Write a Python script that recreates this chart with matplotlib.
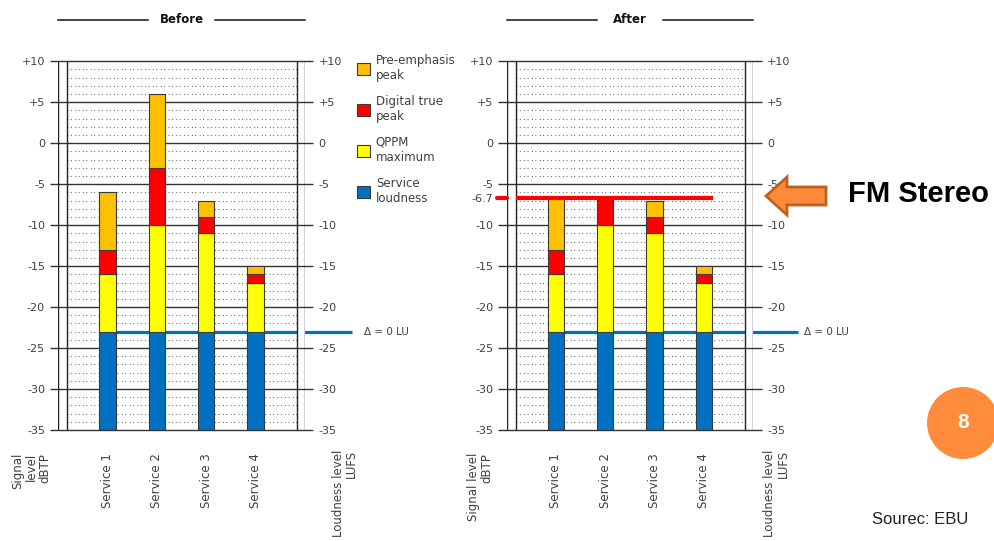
import matplotlib.pyplot as plt
from matplotlib.patches import Patch, Polygon, Circle
import numpy as np

# values (dBTP / LUFS)
services = ['Service 1', 'Service 2', 'Service 3', 'Service 4']
x_pos = [1, 2, 3, 4]
floor = -35
target = -23
fm_limit = -6.7

before_loudness = [-23, -23, -23, -23]
before_qppm = [-16, -10, -11, -17]
before_true_peak = [-13, -3, -9, -16]
before_pre_emphasis = [-6, 6, -7, -15]

after_loudness = [-23, -23, -23, -23]
after_qppm = [-16, -10, -11, -17]
after_true_peak = [-13, -6.7, -9, -16]
after_pre_emphasis = [-6.7, -6.7, -7, -15]

y_ticks = [10, 5, 0, -5, -10, -15, -20, -25, -30, -35]
y_tick_labels = ['+10', '+5', '0', '-5', '-10', '-15', '-20', '-25', '-30', '-35']

legend_labels = ['Pre-emphasis\npeak', 'Digital true\npeak', 'QPPM\nmaximum', 'Service\nloudness']

ORANGE = '#FFC000'
RED = '#FF0000'
YELLOW = '#FFFF00'
BLUE = '#0070C0'
GREY = '#404040'

W, H = 995, 541


def fig_box(left, top, width, height):
    return [left / W, 1 - (top + height) / H, width / W, height / H]


def draw_panel(fig, left_px, title, loudness, qppm, true_peak, pre, blue_end, delta_x,
               extra_tick=None):
    ax = fig.add_axes(fig_box(left_px, 61.3, 246.5, 368.7))
    ax.set_xlim(0, 5)
    ax.set_ylim(-35, 10)
    ax.set_facecolor('none')
    for s in ax.spines.values():
        s.set_visible(False)

    minor = [v for v in range(-34, 10) if v % 5 != 0]
    ax.hlines(minor, 0.18, 4.84, colors='#555555', lw=0.8,
              linestyles=[(0, (0.8, 2.2, 0.8, 3.2))], zorder=1)
    ax.axvspan(0, 0.18, color='white', zorder=2, lw=0)
    ax.axvspan(4.84, 5, color='white', zorder=2, lw=0)
    ax.hlines(y_ticks, -0.17, 5.17, colors='#333333', lw=1.0, zorder=2.5, clip_on=False)
    ax.vlines([0, 0.18, 4.84, 5], -35, 10, colors='#222222', lw=1.0, zorder=2.5)

    base = np.full(len(x_pos), floor, dtype=float)
    for top, color in [(loudness, BLUE), (qppm, YELLOW), (true_peak, RED), (pre, ORANGE)]:
        top = np.array(top, dtype=float)
        ax.bar(x_pos, top - base, bottom=base, width=0.33, color=color,
               edgecolor='#3a3a3a', lw=0.8, zorder=3)
        base = top

    ax.plot([x_pos[0] - 0.165, blue_end], [target, target], color=BLUE, lw=2.3,
            zorder=1.5, clip_on=False, solid_capstyle='butt')
    ax.text(delta_x, target, '\u0394 = 0 LU', va='center', ha='left', fontsize=7.5,
            color=GREY)

    ticks, labels = list(y_ticks), list(y_tick_labels)
    if extra_tick is not None:
        ticks.insert(4, extra_tick)
        labels.insert(4, str(extra_tick))
    ax.set_yticks(ticks, labels)
    ax.tick_params(axis='y', length=0, pad=9.5, labelsize=8, labelcolor=GREY)
    ax.set_xticks(x_pos, services, rotation=90)
    ax.tick_params(axis='x', length=0, pad=17, labelsize=8.5, labelcolor=GREY)

    ax2 = ax.twinx()
    ax2.set_ylim(-35, 10)
    ax2.set_yticks(y_ticks, y_tick_labels)
    ax2.tick_params(axis='y', length=0, pad=10, labelsize=8, labelcolor=GREY)
    for s in ax2.spines.values():
        s.set_visible(False)

    # title with rules on each side
    ax.text(2.5, 15.05, title, ha='center', va='center', fontsize=8.5,
            fontweight='bold', color='#111111')
    ax.plot([0, 1.83], [15, 15], color='#111111', lw=1.1, clip_on=False)
    ax.plot([3.18, 5], [15, 15], color='#111111', lw=1.1, clip_on=False)
    return ax


fig = plt.figure(figsize=(W / 100, H / 100), dpi=100)

draw_panel(fig, 58.2, 'Before', before_loudness, before_qppm, before_true_peak,
           before_pre_emphasis, blue_end=5.96, delta_x=6.2)
ax_after = draw_panel(fig, 506.7, 'After', after_loudness, after_qppm, after_true_peak,
                      after_pre_emphasis, blue_end=5.91, delta_x=6.03, extra_tick=fm_limit)
# FM limit line, broken by the white strip between the double frame lines
for x0, x1 in [(-0.2, 0), (0.18, 4.18)]:
    ax_after.plot([x0, x1], [fm_limit, fm_limit], color=RED, lw=3, zorder=3.5,
                  clip_on=False, solid_capstyle='round' if x0 < 0 else 'butt')

handles = [Patch(facecolor=c, edgecolor='#3a3a3a', lw=0.8)
           for c in [ORANGE, RED, YELLOW, BLUE]]
fig.legend(handles, legend_labels, loc='upper left',
           bbox_to_anchor=(357.5 / W, 1 - 54 / H), frameon=False, fontsize=8.5,
           handlelength=1.1, handleheight=1.1, handletextpad=0.45, labelspacing=1.1,
           borderpad=0, borderaxespad=0, labelcolor=GREY)

# rotated axis captions under the charts
fig.text(31.5 / W, 1 - 453 / H, 'Signal\nlevel\ndBTP', rotation=90, ha='center',
         va='top', multialignment='right', fontsize=8.5, color=GREY, linespacing=1.05)
fig.text(480.5 / W, 1 - 453 / H, 'Signal level\ndBTP', rotation=90, ha='center',
         va='top', multialignment='right', fontsize=8.5, color=GREY, linespacing=1.05)
fig.text(345 / W, 1 - 450 / H, 'Loudness level\nLUFS', rotation=90, ha='center',
         va='top', multialignment='right', fontsize=8.5, color=GREY, linespacing=1.0)
fig.text(776.5 / W, 1 - 450 / H, 'Loudness level\nLUFS', rotation=90, ha='center',
         va='top', multialignment='right', fontsize=8.5, color=GREY, linespacing=1.0)

# slide decorations
ov = fig.add_axes([0, 0, 1, 1], zorder=10)
ov.set_xlim(0, W)
ov.set_ylim(H, 0)
ov.axis('off')
arrow = [(766, 196), (787, 177), (787, 187), (826, 187), (826, 205), (787, 205), (787, 215)]
ov.add_patch(Polygon(arrow, closed=True, facecolor='#FF8A3A', edgecolor='#C0601E', lw=2))
ov.text(848, 194, 'FM Stereo', ha='left', va='center', fontsize=21, fontweight='bold',
        family='Liberation Sans', color='black')
ov.add_patch(Circle((963, 423), 36, facecolor='#FF8C3A', edgecolor='none'))
ov.text(963, 423, '8', ha='center', va='center', fontsize=15, fontweight='bold',
        family='Liberation Sans', color='white')
ov.text(872, 519, 'Sourec: EBU', ha='left', va='center', fontsize=12,
        family='Liberation Sans', color='#222222')

fig.savefig('out.png', dpi=100)
